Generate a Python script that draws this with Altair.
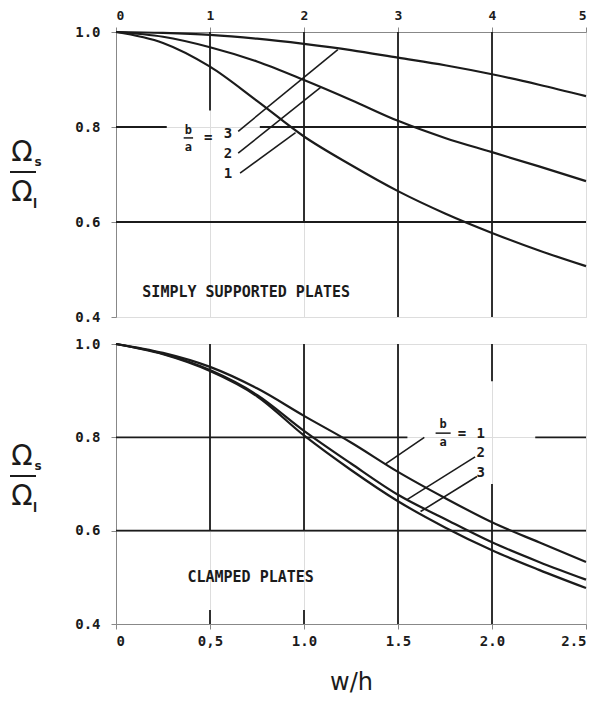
import altair as alt
import pandas as pd

# ---------------- data ----------------
# top panel: simply supported plates (w/h from 0 to 5)
top_x = [0, 0.5, 1, 1.5, 2, 2.5, 3, 3.5, 4, 4.5, 5]
top_r3 = [1.0, 0.998, 0.994, 0.986, 0.975, 0.962, 0.946, 0.930, 0.911, 0.889, 0.865]
top_r2 = [1.0, 0.990, 0.968, 0.938, 0.899, 0.857, 0.813, 0.777, 0.747, 0.717, 0.686]
top_r1 = [1.0, 0.977, 0.927, 0.855, 0.780, 0.720, 0.665, 0.618, 0.577, 0.540, 0.507]

# bottom panel: clamped plates (w/h from 0 to 2.5)
bot_x = [0, 0.25, 0.5, 0.75, 1.0, 1.25, 1.5, 1.75, 2.0, 2.25, 2.5]
bot_r1 = [1.0, 0.981, 0.951, 0.905, 0.846, 0.789, 0.726, 0.670, 0.618, 0.575, 0.533]
bot_r2 = [1.0, 0.979, 0.944, 0.891, 0.814, 0.744, 0.677, 0.625, 0.575, 0.533, 0.495]
bot_r3 = [1.0, 0.978, 0.942, 0.888, 0.804, 0.730, 0.663, 0.607, 0.558, 0.516, 0.477]

top_ticks = [0, 1, 2, 3, 4, 5]
bot_ticks = [0, 0.5, 1.0, 1.5, 2.0, 2.5]
y_ticks = [0.4, 0.6, 0.8, 1.0]

# partial grid lines of the original figure
top_vgrid_x = [1, 2, 3, 4]
top_vgrid_y0 = [0.835, 0.6, 0.4, 0.4]
top_vgrid_y1 = [1.0, 1.0, 1.0, 1.0]
top_hgrid_y = [0.8, 0.8, 0.6]
top_hgrid_x0 = [0, 1.53, 0]
top_hgrid_x1 = [0.54, 5, 5]

bot_vgrid_x = [0.5, 0.5, 1.0, 1.0, 1.5, 2.0, 2.0]
bot_vgrid_y0 = [0.6, 0.4, 0.6, 0.4, 0.4, 0.92, 0.4]
bot_vgrid_y1 = [1.0, 0.43, 1.0, 0.43, 1.0, 1.0, 0.70]
bot_hgrid_y = [0.8, 0.8, 0.6]
bot_hgrid_x0 = [0, 2.23, 0]
bot_hgrid_x1 = [1.55, 2.5, 2.5]

# curve labels (b/a = ...)
top_frac_text = ["b", "a"]
top_frac_x = [0.77, 0.77]
top_frac_y = [0.794, 0.758]
top_lab_text = ["=", "3", "2", "1"]
top_lab_x = [0.98, 1.19, 1.19, 1.19]
top_lab_y = [0.777, 0.786, 0.744, 0.701]
top_bar_x = [0.72, 0.82]
top_bar_y = 0.777
top_lead_x0 = [1.30, 1.30, 1.32]
top_lead_y0 = [0.791, 0.745, 0.703]
top_lead_x1 = [2.36, 2.18, 1.91]
top_lead_y1 = [0.963, 0.884, 0.788]

bot_frac_text = ["b", "a"]
bot_frac_x = [1.74, 1.74]
bot_frac_y = [0.828, 0.789]
bot_lab_text = ["=", "1", "2", "3"]
bot_lab_x = [1.84, 1.94, 1.94, 1.94]
bot_lab_y = [0.808, 0.807, 0.767, 0.724]
bot_bar_x = [1.70, 1.78]
bot_bar_y = 0.809
bot_lead_x0 = [1.64, 1.91, 1.92]
bot_lead_y0 = [0.800, 0.758, 0.716]
bot_lead_x1 = [1.43, 1.55, 1.62]
bot_lead_y1 = [0.742, 0.667, 0.641]

top_note = "SIMPLY SUPPORTED PLATES"
top_note_x, top_note_y = 0.28, 0.452
bot_note = "CLAMPED PLATES"
bot_note_x, bot_note_y = 0.38, 0.50

INK = "#1b1b1b"
MONO = "DejaVu Sans Mono"


def panel(xs, series, names, xdom, vgx, vgy0, vgy1, hgy, hgx0, hgx1,
          frac_text, frac_x, frac_y_vals, lab_text, lab_x, lab_y, bar_x, bar_y,
          lx0, ly0, lx1, ly1, note, nx, ny, xaxis, frac_y):
    xs_scale = alt.Scale(domain=xdom, nice=False, zero=False)
    ys_scale = alt.Scale(domain=[0.4, 1.0], nice=False, zero=False)

    rows = []
    for name, ys in zip(names, series):
        for xv, yv in zip(xs, ys):
            rows.append({"x": xv, "y": yv, "ratio": name})
    curves = alt.Chart(pd.DataFrame(rows)).mark_line(
        color=INK, strokeWidth=2.2, interpolate="monotone"
    ).encode(
        x=alt.X("x:Q", scale=xs_scale, axis=xaxis),
        y=alt.Y("y:Q", scale=ys_scale,
                axis=alt.Axis(values=y_ticks, format=".1f", title=None,
                              labelPadding=11, labelFont=MONO, labelFontWeight="bold",
                              labelFontSize=14, labelColor=INK)),
        detail="ratio:N",
    )

    vg = pd.DataFrame({"x": vgx, "y0": vgy0, "y1": vgy1})
    vgrid = alt.Chart(vg).mark_rule(color=INK, strokeWidth=1.8).encode(
        x=alt.X("x:Q", scale=xs_scale), y=alt.Y("y0:Q", scale=ys_scale), y2="y1:Q"
    )
    hg = pd.DataFrame({"y": hgy, "x0": hgx0, "x1": hgx1})
    hgrid = alt.Chart(hg).mark_rule(color=INK, strokeWidth=1.8).encode(
        y=alt.Y("y:Q", scale=ys_scale), x=alt.X("x0:Q", scale=xs_scale), x2="x1:Q"
    )

    lead = pd.DataFrame({"x0": lx0, "y0": ly0, "x1": lx1, "y1": ly1})
    leaders = alt.Chart(lead).mark_rule(color=INK, strokeWidth=1.6).encode(
        x=alt.X("x0:Q", scale=xs_scale), y=alt.Y("y0:Q", scale=ys_scale),
        x2="x1:Q", y2="y1:Q"
    )

    fr = pd.DataFrame({"t": frac_text, "x": frac_x, "y": frac_y_vals})
    frac_letters = alt.Chart(fr).mark_text(
        font=MONO, fontWeight="bold", fontSize=12, color=INK
    ).encode(x=alt.X("x:Q", scale=xs_scale), y=alt.Y("y:Q", scale=ys_scale), text="t:N")

    labs = pd.DataFrame({"t": lab_text, "x": lab_x, "y": lab_y})
    labels = alt.Chart(labs).mark_text(
        font=MONO, fontWeight="bold", fontSize=14, color=INK
    ).encode(x=alt.X("x:Q", scale=xs_scale), y=alt.Y("y:Q", scale=ys_scale), text="t:N")

    fb = pd.DataFrame({"x0": [bar_x[0]], "x1": [bar_x[1]], "y": [bar_y]})
    fbar = alt.Chart(fb).mark_rule(color=INK, strokeWidth=1.5).encode(
        x=alt.X("x0:Q", scale=xs_scale), x2="x1:Q", y=alt.Y("y:Q", scale=ys_scale)
    )

    nt = pd.DataFrame({"t": [note], "x": [nx], "y": [ny]})
    note_mark = alt.Chart(nt).mark_text(
        font=MONO, fontWeight="bold", fontSize=15, color=INK, align="left"
    ).encode(x=alt.X("x:Q", scale=xs_scale), y=alt.Y("y:Q", scale=ys_scale), text="t:N")

    # y-axis title: Omega_s over Omega_l
    one = pd.DataFrame({"k": [0]})
    om_top = alt.Chart(one).mark_text(font="DejaVu Sans", fontSize=28, color=INK).encode(
        x=alt.value(-94), y=alt.value(frac_y - 19), text=alt.value("Ω"))
    om_bot = alt.Chart(one).mark_text(font="DejaVu Sans", fontSize=28, color=INK).encode(
        x=alt.value(-94), y=alt.value(frac_y + 21), text=alt.value("Ω"))
    sub_s = alt.Chart(one).mark_text(font="DejaVu Sans", fontWeight="bold", fontSize=12,
                                     color=INK).encode(
        x=alt.value(-78), y=alt.value(frac_y - 10), text=alt.value("s"))
    sub_l = alt.Chart(one).mark_text(font="DejaVu Sans", fontWeight="bold", fontSize=12,
                                     color=INK).encode(
        x=alt.value(-81), y=alt.value(frac_y + 32), text=alt.value("l"))
    frac = alt.Chart(one).mark_rule(color=INK, strokeWidth=2).encode(
        x=alt.value(-106), x2=alt.value(-80), y=alt.value(frac_y))

    return alt.layer(vgrid, hgrid, curves, leaders, fbar, frac_letters, labels, note_mark,
                     om_top, om_bot, sub_s, sub_l, frac)


top_axis = alt.Axis(orient="top", values=top_ticks, format="d", title=None,
                    labelPadding=5, labelFont=MONO, labelFontWeight="bold",
                    labelFontSize=13, labelColor=INK)
bot_axis = alt.Axis(
    orient="bottom", values=bot_ticks, title="w/h",
    labelExpr="datum.value == 0 ? '0' : (datum.value == 0.5 ? '0,5' : format(datum.value, '.1f'))",
    labelPadding=5, labelFont=MONO, labelFontWeight="bold", labelFontSize=14, labelColor=INK,
    titlePadding=22, titleFont="DejaVu Sans", titleFontSize=24,
    titleFontWeight="normal", titleColor=INK,
)

top = panel(top_x, [top_r3, top_r2, top_r1], ["3", "2", "1"], [0, 5],
            top_vgrid_x, top_vgrid_y0, top_vgrid_y1, top_hgrid_y, top_hgrid_x0, top_hgrid_x1,
            top_frac_text, top_frac_x, top_frac_y, top_lab_text, top_lab_x, top_lab_y,
            top_bar_x, top_bar_y, top_lead_x0, top_lead_y0, top_lead_x1, top_lead_y1,
            top_note, top_note_x, top_note_y, top_axis, 140).properties(width=470, height=285)

bottom = panel(bot_x, [bot_r1, bot_r2, bot_r3], ["1", "2", "3"], [0, 2.5],
               bot_vgrid_x, bot_vgrid_y0, bot_vgrid_y1, bot_hgrid_y, bot_hgrid_x0, bot_hgrid_x1,
               bot_frac_text, bot_frac_x, bot_frac_y, bot_lab_text, bot_lab_x, bot_lab_y,
               bot_bar_x, bot_bar_y, bot_lead_x0, bot_lead_y0, bot_lead_x1, bot_lead_y1,
               bot_note, bot_note_x, bot_note_y, bot_axis, 132).properties(width=470, height=280)

chart = alt.vconcat(top, bottom, spacing=11).properties(
    padding={"left": 0, "top": 0, "right": 5, "bottom": 2}
).configure_view(
    stroke=INK, strokeWidth=2
).configure_axis(
    domain=False, ticks=False, grid=False,
).configure(background="white")

chart.save("out.html", embed_options={"renderer": "svg", "actions": False})
